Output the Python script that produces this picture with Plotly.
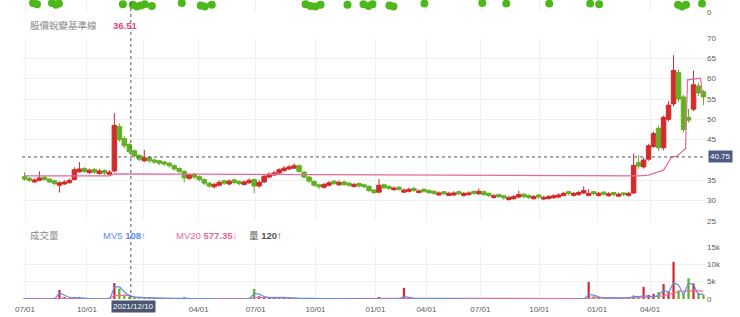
import plotly.graph_objects as go

# ---------------- data ----------------
opens = [35.9, 35.5, 34.6, 35.0, 35.8, 35.3, 34.9, 33.8, 34.1, 34.4,
         35.2, 37.1, 37.9, 36.9, 37.7, 36.7, 37.4, 36.5, 37.3, 48.2,
         45.3, 43.8, 42.3, 41.1, 39.8, 40.6, 40.0, 39.8, 39.5, 39.2,
         38.6, 37.9, 37.2, 35.5, 36.5, 35.9, 35.2, 34.3, 33.4, 33.8,
         34.9, 34.1, 35.1, 34.7, 34.0, 34.4, 35.2, 33.6, 34.6, 35.8,
         36.3, 36.8, 37.4, 37.8, 38.0, 38.6, 37.0, 35.8, 34.7, 33.9,
         33.3, 33.8, 34.8, 33.9, 34.6, 34.3, 33.5, 34.2, 33.9, 33.5,
         32.6, 32.1, 33.9, 33.5, 32.7, 33.3, 32.1, 32.3, 33.0, 32.0,
         32.8, 32.5, 32.3, 31.4, 32.2, 31.3, 31.4, 32.2, 31.3, 31.5,
         32.3, 31.7, 32.2, 31.8, 30.8, 31.5, 31.2, 30.3, 30.5, 30.9,
         31.6, 31.3, 30.5, 31.4, 30.4, 30.5, 30.7, 30.9, 31.3, 32.2,
         31.3, 31.5, 31.9, 31.3, 32.2, 31.3, 32.1, 31.2, 32.0, 31.1,
         31.9, 31.3, 31.9, 39.4, 38.3, 40.2, 43.3, 47.8, 43.0, 50.0,
         53.8, 61.5, 55.5, 50.5, 52.5, 58.2, 56.8]
highs = [37.0, 35.8, 35.5, 37.2, 36.0, 35.5, 35.1, 34.8, 35.0, 35.4,
         38.2, 39.5, 38.3, 37.9, 38.0, 37.8, 37.7, 37.5, 51.5, 49.0,
         45.9, 44.2, 42.6, 41.5, 42.5, 41.0, 40.3, 40.0, 39.8, 39.5,
         38.9, 38.2, 37.5, 36.7, 36.8, 36.2, 35.5, 34.6, 34.4, 35.0,
         35.1, 35.3, 35.4, 35.0, 35.0, 35.5, 35.5, 35.0, 36.4, 37.0,
         37.3, 38.0, 38.5, 38.8, 39.2, 38.9, 37.3, 36.1, 35.0, 34.2,
         34.4, 34.8, 35.0, 35.0, 34.9, 34.6, 34.4, 34.5, 34.2, 33.8,
         32.9, 35.3, 34.2, 33.8, 33.5, 33.6, 33.0, 33.2, 33.3, 32.8,
         33.0, 32.8, 32.5, 32.3, 32.4, 32.2, 32.3, 32.5, 32.2, 32.3,
         32.5, 33.0, 32.5, 32.0, 31.6, 31.7, 31.4, 31.2, 31.4, 32.4,
         31.8, 31.5, 31.4, 31.6, 31.2, 31.4, 31.6, 31.8, 32.2, 32.4,
         32.2, 32.4, 33.5, 32.8, 32.4, 32.2, 32.3, 32.1, 32.2, 32.0,
         32.1, 32.2, 41.6, 41.2, 40.6, 44.0, 47.0, 48.5, 50.9, 54.5,
         65.8, 62.3, 56.0, 52.6, 62.0, 59.0, 57.2]
lows = [34.9, 34.6, 34.4, 34.8, 34.9, 34.3, 33.8, 32.0, 33.9, 34.2,
        35.0, 36.9, 36.8, 36.6, 36.6, 36.4, 36.3, 36.2, 37.0, 44.5,
        42.9, 41.5, 40.5, 39.7, 39.5, 39.3, 39.0, 38.7, 38.5, 38.1,
        37.3, 36.7, 34.5, 35.1, 35.3, 34.7, 33.8, 33.1, 33.0, 33.5,
        33.8, 33.8, 34.0, 33.7, 33.7, 34.1, 31.8, 33.2, 34.3, 35.5,
        36.0, 36.5, 37.1, 37.5, 37.8, 36.9, 35.4, 34.4, 33.4, 32.8,
        33.0, 33.5, 33.8, 33.6, 33.6, 33.4, 33.2, 33.2, 33.0, 32.1,
        31.6, 31.8, 32.8, 32.6, 32.4, 32.4, 31.9, 32.0, 32.1, 31.8,
        31.9, 31.6, 31.4, 31.2, 31.3, 31.1, 31.2, 31.3, 31.0, 31.2,
        31.4, 31.4, 31.1, 30.9, 30.5, 30.6, 30.2, 30.0, 30.2, 30.6,
        30.6, 30.4, 30.2, 30.5, 30.1, 30.3, 30.5, 30.6, 31.0, 31.3,
        31.0, 31.2, 31.6, 31.1, 31.3, 31.0, 31.2, 31.0, 31.1, 30.9,
        31.1, 31.0, 31.6, 37.8, 37.9, 39.8, 43.0, 42.2, 42.4, 49.5,
        53.2, 54.3, 46.8, 49.2, 52.0, 55.8, 53.5]
closes = [35.3, 35.0, 35.1, 35.6, 35.2, 34.6, 34.2, 34.4, 34.6, 35.0,
          37.6, 37.8, 37.2, 37.5, 37.0, 37.3, 36.8, 37.0, 48.5, 45.0,
          43.5, 42.0, 41.0, 40.2, 40.5, 39.8, 39.5, 39.2, 39.0, 38.6,
          37.8, 37.2, 35.6, 36.3, 35.8, 35.2, 34.3, 33.6, 34.0, 34.5,
          34.3, 34.8, 34.5, 34.2, 34.6, 35.0, 33.6, 34.5, 36.0, 36.5,
          36.8, 37.6, 38.0, 38.3, 38.6, 37.2, 35.8, 34.8, 33.8, 33.4,
          34.0, 34.4, 34.2, 34.5, 34.0, 33.8, 34.0, 33.6, 33.5, 32.5,
          32.0, 33.8, 33.2, 33.0, 33.1, 32.8, 32.6, 32.8, 32.5, 32.4,
          32.3, 32.0, 31.8, 31.9, 31.7, 31.8, 31.9, 31.7, 31.8, 31.9,
          31.8, 32.3, 31.5, 31.3, 31.2, 31.0, 30.7, 30.8, 31.0, 31.5,
          31.0, 30.8, 31.0, 30.9, 30.8, 31.0, 31.2, 31.4, 31.8, 31.7,
          31.8, 32.0, 32.5, 31.8, 31.7, 31.8, 31.6, 31.7, 31.5, 31.6,
          31.5, 31.8, 38.7, 38.5, 40.0, 43.5, 46.5, 43.0, 50.5, 53.5,
          62.0, 55.0, 47.5, 49.8, 58.5, 56.5, 55.5]
volumes = [120, 150, 90, 200, 130, 100, 160, 2600, 500, 200,
           350, 300, 150, 120, 100, 150, 90, 80, 4600, 3000,
           1200, 700, 450, 300, 400, 200, 150, 180, 120, 100,
           150, 200, 300, 150, 100, 120, 140, 110, 90, 100,
           80, 110, 90, 100, 120, 150, 2900, 800, 600, 400,
           300, 250, 200, 180, 200, 150, 140, 120, 100, 90,
           80, 90, 70, 80, 90, 60, 70, 80, 60, 100,
           150, 300, 120, 80, 60, 70, 3200, 300, 100, 70,
           60, 50, 60, 50, 40, 50, 60, 50, 40, 50,
           60, 80, 50, 40, 50, 40, 50, 40, 60, 80,
           50, 40, 50, 40, 50, 40, 60, 50, 60, 50,
           60, 80, 150, 4900, 800, 400, 200, 150, 100, 120,
           150, 300, 1000, 900, 3500, 1200, 1500, 2000, 4300, 2200,
           10700, 2500, 1800, 6000, 4500, 1800, 1200]

# baseline line (股價蛻變基準線) vertices
base_x = [0, 17, 18, 60, 113, 123, 125, 127, 128, 129, 129.6, 130.6, 132.4, 132.8, 135.4, 135.8]
base_y = [36.1, 36.1, 36.6, 36.4, 36.1, 36.1, 36.3, 37.0, 37.5, 39.5, 40.7, 40.9, 42.8, 59.7, 60.1, 56.0]

# MV5 / MV20 vertices
mv5_x = [0, 6, 7, 8, 9, 10, 12, 17, 18, 19, 20, 21, 22, 24, 27, 32, 45, 46, 47, 48, 49, 52, 55, 60,
         75, 76, 77, 78, 85, 112, 113, 114, 115, 116, 120, 121, 122, 123, 124, 125, 126, 127, 128,
         129, 130, 131, 132, 133, 134, 135, 136]
mv5_y = [120, 130, 1600, 1100, 500, 300, 250, 150, 3300, 3500, 2000, 900, 600, 400, 250, 200, 150,
         1500, 1400, 700, 400, 300, 200, 150, 100, 700, 500, 200, 100, 100, 1200, 1100, 600, 300,
         250, 300, 700, 700, 900, 800, 700, 1000, 2500, 2000, 4500, 4000, 1200, 4500, 4000, 1300, 1500]
mv20_x = [0, 6, 7, 12, 17, 18, 19, 21, 22, 24, 30, 45, 46, 52, 55, 60, 76, 80, 82, 113, 114, 118,
          120, 122, 124, 126, 128, 130, 132, 134, 136]
mv20_y = [100, 100, 250, 300, 200, 1000, 1100, 1100, 500, 300, 150, 150, 400, 450, 200, 100, 200,
          200, 100, 150, 400, 400, 200, 300, 500, 700, 900, 1800, 2300, 2400, 2300]

# top indicator strip dots
dot_x = [1.7, 2.5, 5.5, 6.3, 6.9, 19.7, 21.7, 22.5, 23.3, 24.1, 25.5, 31.5, 35.3, 36.1, 37.5,
         56.3, 57.3, 58.3, 59.3, 64.7, 67.9, 68.9, 69.7, 73.1, 73.9, 80.1, 91.7, 96.5, 105.1,
         113.3, 115.1, 130.9, 131.7, 132.5, 135.7]
dot_y = [7.5, 6.5, 7.5, 6.0, 7.0, 6.5, 6.0, 4.5, 5.5, 6.5, 5.0, 7.5, 5.5, 4.5, 6.0,
         6.5, 5.0, 4.5, 6.0, 6.0, 6.5, 5.0, 6.5, 5.5, 4.5, 7.0, 7.5, 7.0, 7.0,
         7.0, 6.5, 6.0, 4.5, 6.0, 7.0]

tick_pos = [0.1, 12.5, 23.9, 34.9, 46.3, 58.3, 70.3, 80.5, 91.3, 103.1, 114.7, 125.3]
tick_text = ["07/01", "10/01", "", "04/01", "07/01", "10/01", "01/01", "04/01",
             "07/01", "10/01", "01/01", "04/01"]

cross_idx = 21.3
cross_price = 40.75
cross_date = "2021/12/10"
base_value = "36.51"
mv5_value = "108"
mv20_value = "577.35"
vol_value = "120"

# ---------------- figure ----------------
RED = "#d42a2a"
GREEN = "#62b023"
idx = list(range(len(closes)))
vol_colors = [RED if c >= o else GREEN for o, c in zip(opens, closes)]

W, H = 740, 317
ML, MR, MT, MB = 22, 34, 0, 18
PW, PH = W - ML - MR, H - MT - MB

def fx(px):
    return (px - ML) / PW

def fy(py):
    return (PH - (py - MT)) / PH

fig = go.Figure()

fig.add_trace(go.Candlestick(
    x=idx, open=opens, high=highs, low=lows, close=closes,
    increasing=dict(line=dict(color=RED, width=1), fillcolor=RED),
    decreasing=dict(line=dict(color=GREEN, width=1), fillcolor=GREEN),
    xaxis="x2", yaxis="y2", showlegend=False))

fig.add_trace(go.Scatter(x=base_x, y=base_y, mode="lines",
                         line=dict(color="#e8689a", width=1.2),
                         xaxis="x2", yaxis="y2", showlegend=False))

fig.add_trace(go.Bar(x=idx, y=volumes, marker=dict(color=vol_colors, line=dict(width=0)),
                     width=0.45, xaxis="x", yaxis="y", showlegend=False))
fig.add_trace(go.Scatter(x=mv20_x, y=mv20_y, mode="lines",
                         line=dict(color="#ea6f9b", width=1.2),
                         xaxis="x", yaxis="y", showlegend=False))
fig.add_trace(go.Scatter(x=mv5_x, y=mv5_y, mode="lines",
                         line=dict(color="#5b8ff0", width=1.2, shape="spline", smoothing=0.6),
                         xaxis="x", yaxis="y", showlegend=False))

fig.add_trace(go.Scatter(x=dot_x, y=dot_y, mode="markers",
                         marker=dict(color="#4cb81c", size=8),
                         xaxis="x3", yaxis="y3", showlegend=False))

xr = [-0.5, len(closes) - 0.5]
grid = "#f1f1f1"
tickfont = dict(size=8, color="#5a5a5a")
common_x = dict(range=xr, showgrid=True, gridcolor=grid, gridwidth=1, zeroline=False,
                tickvals=tick_pos, ticktext=tick_text, showline=False, fixedrange=True,
                automargin=False)

vol_dom = [0, fy(247)]
main_dom = [fy(221), fy(38)]
top_dom = [fy(12), 1]

fig.update_layout(
    width=W, height=H, margin=dict(l=ML, r=MR, t=MT, b=MB, pad=0, autoexpand=False),
    paper_bgcolor="white", plot_bgcolor="white",
    font=dict(family="Liberation Sans, Noto Sans CJK TC, sans-serif", size=10, color="#666"),
    xaxis=dict(**common_x, anchor="y", showticklabels=True, tickfont=tickfont, ticks="",
               ticklabelstandoff=4),
    xaxis2=dict(**common_x, anchor="y2", matches="x", showticklabels=False,
                rangeslider=dict(visible=False)),
    xaxis3=dict(**common_x, anchor="y3", matches="x", showticklabels=False),
    yaxis=dict(domain=vol_dom, range=[0, 15000], side="right", tickvals=[0, 5000, 10000, 15000],
               ticktext=["0", "5k", "10k", "15k"], showgrid=True, gridcolor=grid, zeroline=False,
               tickfont=tickfont, anchor="x", automargin=False),
    yaxis2=dict(domain=main_dom, range=[25, 70], side="right",
                tickvals=[25, 30, 35, 45, 50, 55, 60, 65, 70],
                showgrid=True, gridcolor=grid, zeroline=False, tickfont=tickfont, anchor="x2",
                automargin=False),
    yaxis3=dict(domain=top_dom, range=[0, 10], side="right", tickvals=[0], ticktext=["0"],
                showgrid=True, gridcolor=grid, zeroline=False, tickfont=tickfont, anchor="x3",
                automargin=False),
    boxgap=0.0,
    boxgroupgap=0.1,
    bargap=0.5,
)

# crosshair
fig.add_shape(type="line", xref="x", yref="paper", x0=cross_idx, x1=cross_idx, y0=0, y1=1,
              line=dict(color="#555", width=1, dash="dot"))
fig.add_shape(type="line", xref="paper", yref="y2", x0=0, x1=1, y0=cross_price, y1=cross_price,
              line=dict(color="#555", width=1, dash="dot"))

anns = []
anns.append(dict(x=1, xref="paper", xanchor="left", xshift=2, y=cross_price, yref="y2",
                 text=f"{cross_price:.2f}", showarrow=False, bgcolor="#4e5b85",
                 font=dict(color="white", size=8), borderpad=1))
anns.append(dict(x=cross_idx, xref="x", xshift=3, y=fy(306.5), yref="paper", yanchor="middle",
                 text=cross_date, showarrow=False, bgcolor="#4a5670",
                 font=dict(color="white", size=8), borderpad=1))

def txt(px, py, text, color, size=9.5):
    anns.append(dict(x=fx(px), xref="paper", xanchor="left", y=fy(py), yref="paper",
                     yanchor="middle", text=text, showarrow=False,
                     font=dict(color=color, size=size)))

txt(28, 25, "股價蛻變基準線", "#888", 9.5)
txt(111, 25, f"<b>{base_value}</b>", "#e0457b", 9.5)
txt(28, 235, "成交量", "#888", 9.5)
txt(101, 235, f"MV5 <b>{mv5_value}</b>↑", "#5b8ff0", 9.5)
txt(174, 235, f"MV20 <b>{mv20_value}</b>↓", "#e8669a", 9.5)
txt(247, 235, f"量 <b>{vol_value}</b>↑", "#555", 9.5)

fig.update_layout(annotations=anns)
fig.write_html("out.html")
